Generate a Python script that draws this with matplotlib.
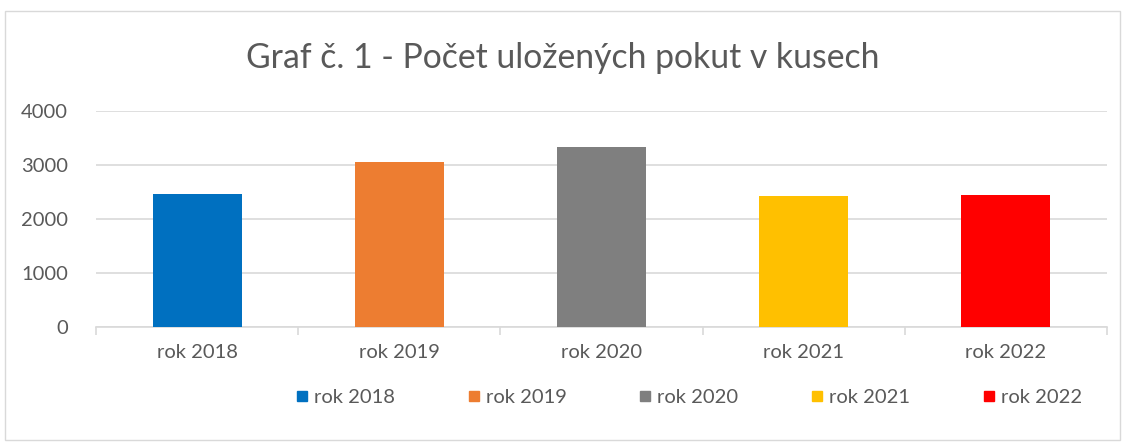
import matplotlib.pyplot as plt
from matplotlib.patches import Rectangle
from matplotlib.lines import Line2D

# data
roky = ['rok 2018', 'rok 2019', 'rok 2020', 'rok 2021', 'rok 2022']
pokuty = [2470, 3055, 3330, 2430, 2440]
barvy = ['#0070C0', '#ED7D31', '#7F7F7F', '#FFC000', '#FF0000']

plt.rcParams['font.family'] = ['Lato', 'DejaVu Sans']
sedá = '#595959'
mřížka = '#D9D9D9'

fig = plt.figure(figsize=(11.25, 4.43), dpi=100)
fig.patches.append(Rectangle((5 / 1125, 3 / 443), 1115 / 1125, 429 / 443,
                             transform=fig.transFigure, fill=False,
                             edgecolor=mřížka, linewidth=1))

ax = fig.add_axes([96 / 1125, 1 - 327 / 443, 1011 / 1125, 216 / 443])
x = range(len(roky))
ax.bar(x, pokuty, width=0.44, color=barvy, zorder=3)

ax.set_xlim(-0.5, len(roky) - 0.5)
ax.set_ylim(0, 4000)
ax.set_yticks([0, 1000, 2000, 3000, 4000])
ax.grid(axis='y', color=mřížka, linewidth=1.2, zorder=0)
for s in ['top', 'right', 'left']:
    ax.spines[s].set_visible(False)
ax.spines['bottom'].set_color(mřížka)
ax.spines['bottom'].set_linewidth(1.2)
ax.tick_params(axis='y', length=0, labelsize=14.5, labelcolor=sedá, pad=20)
ax.set_xticks(list(x))
ax.set_xticklabels(roky)
ax.tick_params(axis='x', length=0, labelsize=14.5, labelcolor=sedá, pad=12)
ax.set_xticks([i - 0.5 for i in range(len(roky) + 1)], minor=True)
ax.tick_params(axis='x', which='minor', length=6, color=mřížka, width=1.2)

fig.text(0.5, 1 - 58 / 443, 'Graf č. 1 - Počet uložených pokut v kusech',
         ha='center', va='center', fontsize=24.3, color=sedá)

handles = [Line2D([], [], marker='s', linestyle='', markersize=7,
                  color=c) for c in barvy]
fig.legend(handles, roky, loc='center', bbox_to_anchor=(687 / 1125, 1 - 397 / 443),
           ncol=5, frameon=False, fontsize=14.5, labelcolor=sedá,
           handletextpad=0.1, columnspacing=3.4, handlelength=1.0)

fig.savefig('out.png', dpi=100)
